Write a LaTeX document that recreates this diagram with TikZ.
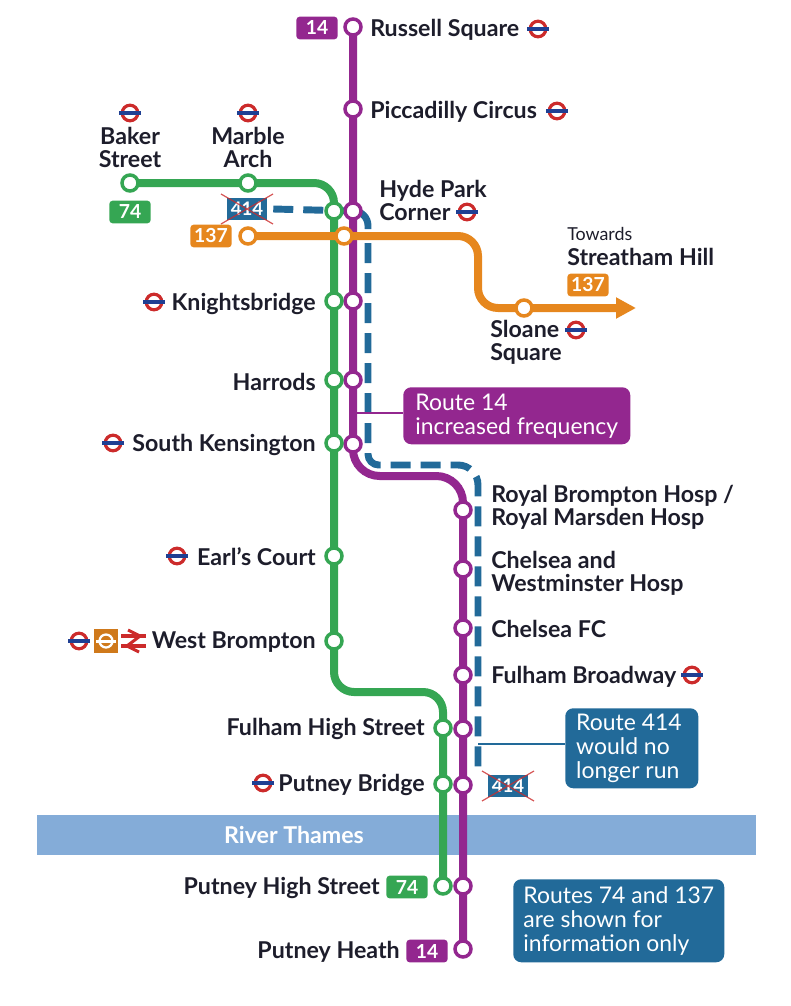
\documentclass[tikz,border=0pt]{standalone}
\usepackage{fontspec}
\setmainfont{Lato}
\usetikzlibrary{backgrounds,arrows.meta}
\definecolor{pur}{HTML}{93278F}
\definecolor{grn}{HTML}{35A653}
\definecolor{org}{HTML}{E6871E}
\definecolor{blu}{HTML}{226A99}
\definecolor{riv}{HTML}{84ACD8}
\definecolor{ink}{HTML}{1D1D2B}
\definecolor{ured}{HTML}{CC2B2B}
\definecolor{ublu}{HTML}{1F3F93}
\pgfdeclarelayer{river}
\pgfsetlayers{river,background,main}
\tikzset{
  x=0.75pt,y=-0.75pt,
  stn/.style={circle,draw=#1,fill=white,line width=2.6pt,minimum size=12pt,inner sep=0pt},
  lbl/.style={font=\fontsize{17.4}{17.4}\selectfont\bfseries,text=ink,inner sep=0pt,align=left},
  lblc/.style={lbl,align=center},
  badge/.style={fill=#1,rounded corners=2.5pt,text=white,font=\fontsize{14.5}{15}\selectfont\bfseries,inner sep=0pt,minimum height=17pt,minimum width=31pt},
  callout/.style={fill=#1,rounded corners=6pt,text=white,font=\fontsize{17.2}{18}\selectfont,inner sep=0pt,align=left,anchor=north west},
  route/.style={draw=#1,line width=6pt,rounded corners=15pt},
  bluroute/.style={draw=blu,line width=5.2pt},
  leader/.style={draw=#1,line width=1.4pt},
  roundel/.pic={
    \draw[ured,line width=2.4pt] (0,0) circle[radius=7.8];
    \fill[ublu] (-11,-1.8) rectangle (11,1.8);
  },
  crossed/.pic={
    \node[fill=blu,text=white,font=\fontsize{14}{15}\selectfont\bfseries,inner sep=0pt,minimum width=30pt,minimum height=17pt] (-b) at (0,0) {414};
    \draw[ured,line width=0.9pt,opacity=.8] (-26,-15) -- (26,15) (-26,15) -- (26,-15);
  },
}
\begin{document}
\begin{tikzpicture}
\useasboundingbox (0,0) rectangle (790,1006);
% stations: purple
\node[stn=pur] (rs) at (353,27) {};
\node[stn=pur] (pc) at (353,109) {};
\node[stn=pur] (hp) at (353,211) {};
\node[stn=pur] (kp) at (353,301) {};
\node[stn=pur] (hr) at (353,380) {};
\node[stn=pur] (sk) at (353,444) {};
\node[stn=pur] (rb) at (463,510) {};
\node[stn=pur] (cw) at (463,569) {};
\node[stn=pur] (cf) at (463,628) {};
\node[stn=pur] (fb) at (463,675) {};
\node[stn=pur] (fh) at (463,729) {};
\node[stn=pur] (pb) at (463,785) {};
\node[stn=pur] (ph) at (463,886) {};
\node[stn=pur] (pt) at (463,949) {};
% green
\node[stn=grn] (bs) at (130,183) {};
\node[stn=grn] (ma) at (248,183) {};
\node[stn=grn] (ghp) at (334,211) {};
\node[stn=grn] (gk) at (334,301) {};
\node[stn=grn] (gh) at (334,380) {};
\node[stn=grn] (gs) at (334,443) {};
\node[stn=grn] (ec) at (334,556) {};
\node[stn=grn] (wb) at (334,641) {};
\node[stn=grn] (gf) at (443,728) {};
\node[stn=grn] (gb) at (443,784) {};
\node[stn=grn] (gp) at (443,886) {};
% orange
\node[stn=org] (om) at (248,236) {};
\node[stn=org] (oh) at (344,236) {};
\node[stn=org] (ss) at (524,308) {};
\coordinate (oend) at (636,308);
\coordinate (bend) at (478,775);
\coordinate (bcurve) at (368,229);
\coordinate (bdash) at (368,243);
% crossed badges
\pic (xa) at (247,209) {crossed};
\pic (xb) at (508,786) {crossed};
% callouts
\node[callout=pur,minimum width=170.25pt,minimum height=42.75pt] (c1) at (403,387) {Route 14\\increased frequency};
\node[callout=blu,minimum width=99.75pt,minimum height=60pt] (c2) at (565,708) {Route 414\\would no\\longer run\hspace*{6pt}};
\node[callout=blu,minimum width=158.25pt,minimum height=62.25pt] (c3) at (513,879) {Routes 74 and 137\\are shown for\\information only};
\coordinate (lp) at (353,413);
\coordinate (lb) at (478,744);
\draw[leader=pur] (lp) -- (lp -| c1.west);
\draw[leader=blu] (lb) -- (lb -| c2.west);
% routes
\begin{pgfonlayer}{river}
\fill[riv] (37,815) rectangle (756,855);
\end{pgfonlayer}
\begin{pgfonlayer}{background}
\draw[bluroute,dash pattern=on 15pt off 7.5pt] (xa-b.east) ++(6,0) -- (hp.center);
\draw[bluroute,rounded corners=11pt] (hp.center) -- (368,211) -- (bcurve);
\draw[bluroute,dash pattern=on 15pt off 7.5pt,rounded corners=8pt]
  (bdash) -- (368,465) [rounded corners=15pt] -- (478,465) -- (bend);
\draw[route=grn] (bs.center) -- (334,183) -- (334,692) -- (443,692) -- (gp.center);
\draw[route=pur,rounded corners=20pt] (rs.center) -- (353,476) -- (463,476) -- (pt.center);
\draw[route=org,-{Triangle[length=15pt,width=15pt]}] (om.center) -- (478,236) -- (478,308) -- (oend);
\end{pgfonlayer}
% river label
\node[font=\fontsize{17.4}{18}\selectfont\bfseries,text=white] (rt) at (294,835) {River Thames};
% roundels
\pic at (538,29) {roundel};
\pic at (557,111) {roundel};
\pic at (130,113) {roundel};
\pic at (248,113) {roundel};
\pic at (467,212) {roundel};
\pic at (576,330) {roundel};
\pic at (154,302) {roundel};
\pic at (113,443) {roundel};
\pic at (177,556) {roundel};
\pic at (79,641) {roundel};
\pic at (263,783) {roundel};
\pic at (692,675) {roundel};
% overground and rail symbols
\fill[org!90!black] (94,629) rectangle (118,653);
\draw[white,line width=1.7pt] (106,641) circle[radius=6.5];
\fill[white] (96,639.5) rectangle (116,642.5);
\begin{scope}[ured,line width=2.3pt,line join=miter]
\draw (121,636) -- (146,636) (121,646) -- (146,646);
\draw (128,630) -- (140,636) -- (127,646) -- (139,652);
\end{scope}
% labels
\node[lbl,anchor=west] (l1) at (370,30) {Russell Square};
\node[lbl,anchor=west] (l2) at (370,112) {Piccadilly Circus};
\node[lblc,anchor=north] (l3) at (130,127) {Baker\\Street};
\node[lblc,anchor=north] (l4) at (248,127) {Marble\\Arch};
\node[lbl,anchor=north west] (l5) at (379,180) {Hyde Park\\Corner};
\node[lbl,anchor=north west] (l6) at (490,320) {Sloane\\Square};
\node[lbl,anchor=east] (l7) at (316,304) {Knightsbridge};
\node[lbl,anchor=east] (l8) at (316,382) {Harrods};
\node[lbl,anchor=east] (l9) at (316,445) {South Kensington};
\node[lbl,anchor=east] (l10) at (316,557) {Earl’s Court};
\node[lbl,anchor=east] (l11) at (316,642) {West Brompton};
\node[lbl,anchor=east] (l12) at (425,729) {Fulham High Street};
\node[lbl,anchor=east] (l13) at (425,785) {Putney Bridge};
\node[lbl,anchor=east] (l14) at (380,888) {Putney High Street};
\node[lbl,anchor=east] (l15) at (400,952) {Putney Heath};
\node[lbl,anchor=north west] (l16) at (491,485) {Royal Brompton Hosp /\\Royal Marsden Hosp};
\node[lbl,anchor=north west] (l17) at (491,551) {Chelsea and\\Westminster Hosp};
\node[lbl,anchor=west] (l18) at (491,629) {Chelsea FC};
\node[lbl,anchor=west] (l19) at (491,677) {Fulham Broadway};
\node[font=\fontsize{13.4}{14}\selectfont,text=ink,anchor=west,inner sep=0pt] (l20) at (567,234) {Towards};
\node[lbl,anchor=west] (l21) at (567,257) {Streatham Hill};
% badges
\node[badge=pur] (b14a) at (317,28) {14};
\node[badge=pur] (b14b) at (427,951) {14};
\node[badge=grn] (b74a) at (130,212) {74};
\node[badge=grn] (b74b) at (407,887) {74};
\node[badge=org] (b137a) at (211,236) {137};
\node[badge=org] (b137b) at (588,285) {137};
\end{tikzpicture}
\end{document}
